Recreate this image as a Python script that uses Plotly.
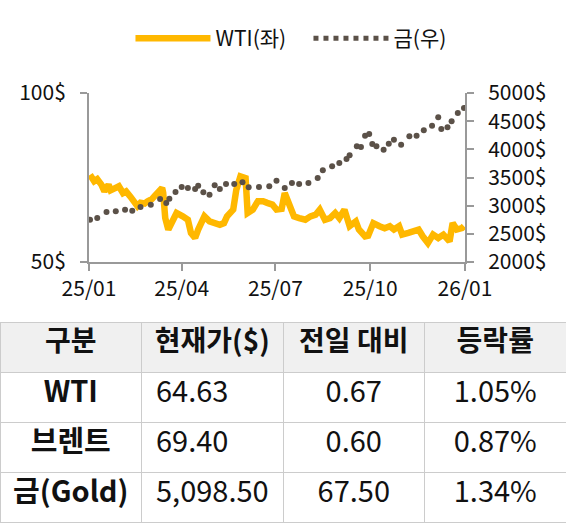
import plotly.graph_objects as go

# WTI (좌축, $/bbl)
wti_dates = ['2025-01-02', '2025-01-06', '2025-01-09', '2025-01-13', '2025-01-16', '2025-01-20', '2025-01-22',
             '2025-01-25', '2025-01-30', '2025-02-03', '2025-02-06', '2025-02-10', '2025-02-13', '2025-02-17',
             '2025-02-20', '2025-02-24', '2025-02-27', '2025-03-03', '2025-03-06', '2025-03-10', '2025-03-13',
             '2025-03-14', '2025-03-16', '2025-03-19', '2025-03-22', '2025-03-27', '2025-04-02', '2025-04-07',
             '2025-04-10', '2025-04-14', '2025-04-17', '2025-04-23', '2025-04-28', '2025-05-03', '2025-05-08',
             '2025-05-12', '2025-05-15', '2025-05-21', '2025-05-24', '2025-05-28', '2025-06-02', '2025-06-04',
             '2025-06-09', '2025-06-14', '2025-06-19', '2025-06-23', '2025-06-28', '2025-07-02', '2025-07-07',
             '2025-07-10', '2025-07-14', '2025-07-19', '2025-07-24', '2025-07-30', '2025-08-04', '2025-08-09',
             '2025-08-13', '2025-08-18', '2025-08-23', '2025-08-28', '2025-09-01', '2025-09-06', '2025-09-11',
             '2025-09-17', '2025-09-20', '2025-09-26', '2025-09-29', '2025-10-04', '2025-10-10', '2025-10-15',
             '2025-10-20', '2025-10-24', '2025-10-29', '2025-11-01', '2025-11-07', '2025-11-12', '2025-11-17',
             '2025-11-21', '2025-11-26', '2025-12-01', '2025-12-06', '2025-12-11', '2025-12-17', '2025-12-20',
             '2025-12-24', '2025-12-29', '2025-12-31']
wti = [75.8, 73.9, 74.5, 72.9, 70.9, 72.9, 71.2, 71.6, 72.4, 70.4, 70.9, 69.4, 68.2, 66.5,
       67.5, 67.3, 68.0, 68.6, 69.6, 71.0, 71.9, 70.5, 63.0, 59.6, 61.5, 64.5, 63.5, 62.5,
       58.6, 57.1, 59.6, 63.5, 62.0, 61.5, 61.0, 61.5, 63.5, 65.5, 71.4, 75.3, 74.8, 64.5,
       65.5, 68.0, 68.0, 67.5, 67.0, 65.5, 65.7, 70.4, 67.5, 63.5, 63.0, 62.5, 63.5, 64.0,
       65.5, 62.5, 63.0, 64.5, 63.0, 65.5, 60.6, 62.0, 59.6, 57.6, 57.8, 61.5, 60.6, 60.0,
       60.6, 59.6, 60.6, 58.1, 58.6, 59.0, 59.6, 57.6, 55.6, 58.1, 57.1, 58.1, 56.1, 61.5,
       59.6, 60.0, 60.6]

# 금 (우축, $/oz)
gold_dates = ['2025-01-02', '2025-01-09', '2025-01-18', '2025-01-27', '2025-02-05', '2025-02-12', '2025-02-20',
              '2025-03-02', '2025-03-11', '2025-03-17', '2025-03-20', '2025-03-26', '2025-04-01', '2025-04-07',
              '2025-04-14', '2025-04-17', '2025-04-22', '2025-04-28', '2025-05-03', '2025-05-08', '2025-05-14',
              '2025-05-22', '2025-05-30', '2025-06-05', '2025-06-15', '2025-06-25', '2025-07-02', '2025-07-10',
              '2025-07-17', '2025-07-24', '2025-08-02', '2025-08-11', '2025-08-16', '2025-08-25', '2025-09-01',
              '2025-09-08', '2025-09-11', '2025-09-18', '2025-09-22', '2025-09-26', '2025-09-30', '2025-10-03',
              '2025-10-07', '2025-10-14', '2025-10-19', '2025-10-24', '2025-10-31', '2025-11-08', '2025-11-15',
              '2025-11-22', '2025-11-30', '2025-12-06', '2025-12-09', '2025-12-15', '2025-12-19', '2025-12-25',
              '2025-12-31']
gold = [2752, 2781, 2888, 2900, 2929, 2911, 2976, 3018, 3118, 3047, 3124, 3243, 3331, 3314,
        3296, 3355, 3237, 3195, 3361, 3296, 3385, 3385, 3414, 3325, 3331, 3343, 3444, 3314,
        3402, 3385, 3402, 3491, 3627, 3698, 3757, 3828, 3894, 4053, 4041, 4243, 4272, 4095,
        4053, 3994, 4101, 4172, 4083, 4231, 4243, 4337, 4420, 4568, 4361, 4391, 4497, 4645,
        4734]

# 표
tbl_header = ['구분', '현재가($)', '전일\u00a0대비', '등락률']
tbl_name = ['WTI', '브렌트', '금(Gold)']
tbl_price = ['64.63', '69.40', '5,098.50']
tbl_change = ['0.67', '0.60', '67.50']
tbl_rate = ['1.05%', '0.87%', '1.34%']

FONT = 'Noto Sans CJK KR'
ORANGE = '#FFB800'
GRAY = '#5B5148'
AXIS = '#999999'

fig = go.Figure()

fig.add_trace(go.Scatter(x=wti_dates, y=wti, name='WTI(좌)', mode='lines',
                         line=dict(color=ORANGE, width=6.5), yaxis='y'))
fig.add_trace(go.Scatter(x=gold_dates, y=gold, name='금(우)', mode='markers', showlegend=False,
                         marker=dict(color=GRAY, size=6), yaxis='y2'))
# 범례용 (점선)
fig.add_trace(go.Scatter(x=[None], y=[None], name='금(우)', mode='lines',
                         line=dict(color=GRAY, width=5, dash='dot'), yaxis='y2'))

fig.add_trace(go.Table(
    domain=dict(x=[0, 1], y=[0, 1 - 322 / 523]),
    columnwidth=[1, 1, 1, 1],
    header=dict(values=tbl_header, height=50, fill_color='#F0F0F0',
                line=dict(color='#CCCCCC', width=1), align='center',
                font=dict(family=FONT, size=28, color='#111111', weight='bold')),
    cells=dict(values=[tbl_name, tbl_price, tbl_change, tbl_rate],
               height=50, fill_color='white', line=dict(color='#CCCCCC', width=1),
               align=['center', 'left', 'center', 'center'], prefix=['', '\u00a0', '', ''],
               font=dict(family=FONT, size=29, color='#111111',
                         weight=['bold', 'normal', 'normal', 'normal'])),
))

fig.update_layout(
    width=566, height=523, autosize=False,
    margin=dict(l=0, r=0, t=0, b=0),
    paper_bgcolor='white', plot_bgcolor='white',
    font=dict(family=FONT, size=21, color='#111111'),
    showlegend=True,
    legend=dict(orientation='h', x=0.545, xanchor='center', y=1 - 18 / 523, yanchor='top',
                font=dict(size=21), itemwidth=75, entrywidth=88, bgcolor='rgba(0,0,0,0)'),
    xaxis=dict(domain=[89 / 566, 465 / 566], type='date', range=['2025-01-01', '2026-01-01'],
               tick0='2025-01-01', dtick='M3', tickformat='%y/%m', showgrid=False, automargin=False,
               showline=True, linecolor=AXIS, linewidth=2, ticks='outside', ticklen=7,
               tickcolor=AXIS, tickwidth=2, zeroline=False),
    yaxis=dict(domain=[1 - 262 / 523, 1 - 93 / 523], range=[50, 100], dtick=50, ticksuffix='$',
               showgrid=False, showline=True, linecolor=AXIS, linewidth=2, ticks='outside', automargin=False,
               ticklen=7, tickcolor=AXIS, tickwidth=2, zeroline=False, ticklabelstandoff=10),
    yaxis2=dict(overlaying='y', side='right', range=[2000, 5000], dtick=500, ticksuffix='$', automargin=False,
                showgrid=False, showline=True, linecolor=AXIS, linewidth=2, ticks='outside',
                ticklen=7, tickcolor=AXIS, tickwidth=2, zeroline=False, ticklabelstandoff=10),
)

fig.write_html("out.html", config=dict(displayModeBar=False),
               post_script="document.body.style.margin='0px';")
